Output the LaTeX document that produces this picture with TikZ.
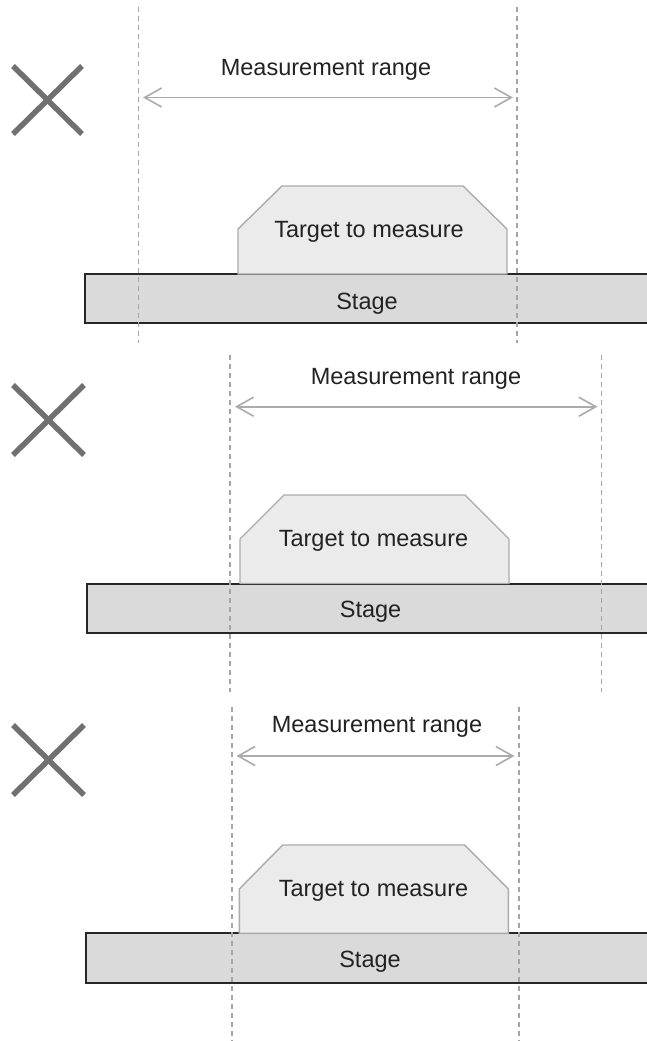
\documentclass[tikz,border=0pt]{standalone}
\usepackage{fontspec}
\setmainfont{Liberation Sans}
\usetikzlibrary{arrows.meta}
\definecolor{crossgray}{HTML}{707071}
\definecolor{dashgray}{HTML}{A5A5A5}
\definecolor{arrowgray}{HTML}{ABABAB}
\definecolor{targetfill}{HTML}{EBEBEC}
\definecolor{targetline}{HTML}{ABABAB}
\definecolor{stagefill}{HTML}{DADADB}
\definecolor{stageline}{HTML}{262626}
\definecolor{textdark}{HTML}{222222}
\tikzset{
  crossline/.style={draw=crossgray, line width=5.5pt},
  guideline/.style={draw=dashgray, line width=1.3pt, dash pattern=on 5pt off 4pt},
  rangearrow/.style={draw=arrowgray, line width=1.6pt, {Straight Barb[length=17pt,width=19pt,line width=1.6pt]}-{Straight Barb[length=17pt,width=19pt,line width=1.6pt]}},
  targetshape/.style={fill=targetfill, draw=targetline, line width=1.4pt},
  stageshape/.style={fill=stagefill, draw=stageline, line width=2pt},
  label/.style={inner sep=0pt, anchor=base, font=\fontsize{23.5}{28}\selectfont, text=textdark},
}
\begin{document}
\begin{tikzpicture}[x=1pt,y=-1pt]
\useasboundingbox (0,0) rectangle (647,1041);
\clip (0,0) rectangle (647,1041);
\foreach \i/\dl/\dr/\dtop/\dbot/\mx/\my/\ay/\al/\ar/\tL/\tR/\tTL/\tTR/\ttop/\tside/\tbot/\tx/\ty/\sL/\sbot/\sx/\sy/\xa/\xb/\xc/\xd in {
 1/138.3/517/7/343/326/76/97.5/143/513/238/507/282/463/186/229/274/369/237.3/84.5/323/367/309.4/13/82/66/134,
 2/230/601.5/355/692/416/384/406.7/235/597.5/240/509/284/465/495/539/583.5/373.5/546.3/86.7/633.3/370.6/617.7/13/84/385/455,
 3/232/519/707/1045/377/732/756/236.5/514.5/239.3/508.4/282.7/464.6/845/889/933.3/373.5/896.3/85.8/983.3/370/967.7/13/84/725/795}{
  % cross mark
  \draw[crossline] (\xa,\xc) -- (\xb,\xd);
  \draw[crossline] (\xa,\xd) -- (\xb,\xc);
  % stage
  \draw[stageshape] (\sL,\tbot) rectangle (660,\sbot);
  \node[label] (stage\i) at (\sx,\sy) {Stage};
  % target
  \draw[targetshape] (\tL,\tbot) -- (\tL,\tside) -- (\tTL,\ttop) -- (\tTR,\ttop) -- (\tR,\tside) -- (\tR,\tbot) -- cycle;
  \node[label] (target\i) at (\tx,\ty) {Target to measure};
  % range
  \node[label] (range\i) at (\mx,\my) {Measurement range};
  \coordinate (al\i) at (\al,\ay);
  \coordinate (ar\i) at (\ar,\ay);
  \draw[rangearrow] (al\i) -- (ar\i);
  % guide lines
  \coordinate (gl\i t) at (\dl,\dtop);
  \coordinate (gl\i b) at (\dl,\dbot);
  \coordinate (gr\i t) at (\dr,\dtop);
  \coordinate (gr\i b) at (\dr,\dbot);
  \draw[guideline] (gl\i t) -- (gl\i b);
  \draw[guideline] (gr\i t) -- (gr\i b);
}
\end{tikzpicture}
\end{document}
